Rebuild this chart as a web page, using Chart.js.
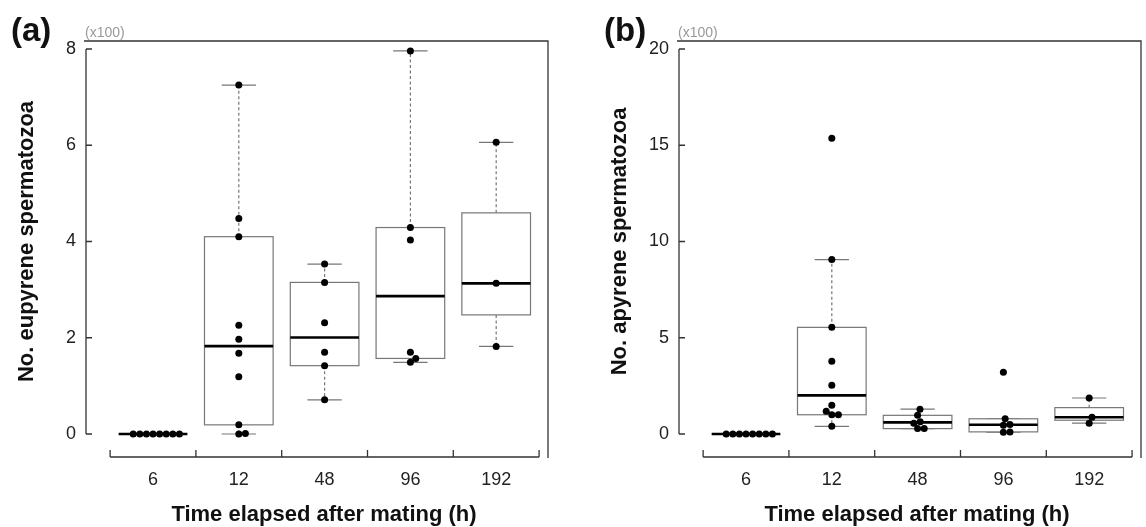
<!DOCTYPE html>
<html>
<head>
<meta charset="utf-8">
<script src="https://cdn.jsdelivr.net/npm/chart.js@4.4.1/dist/chart.umd.min.js"></script>
<style>
  html, body { margin: 0; padding: 0; background: #fff; overflow: hidden; }
  #wrap { position: relative; width: 1146px; height: 527px; }
  #boxA { position: absolute; left: 0; top: 0; width: 573px; height: 527px; }
  #boxB { position: absolute; left: 593px; top: 0; width: 553px; height: 527px; overflow: hidden; }
</style>
</head>
<body>
<div id="wrap">
  <div id="boxA"><canvas id="chartA" width="573" height="527"></canvas></div>
  <div id="boxB"><canvas id="chartB" width="573" height="527"></canvas></div>
</div>
<script>
const hours = ['6', '12', '48', '96', '192'];

// (a) eupyrene spermatozoa, x100
const eupyrene6 = [0, 0, 0, 0, 0, 0, 0, 0];
const eupyrene12 = [7.25, 4.48, 4.10, 2.26, 1.97, 1.68, 1.19, 0.19, 0.01, 0.0];
const eupyrene48 = [3.53, 3.15, 2.31, 1.70, 1.42, 0.71];
const eupyrene96 = [7.96, 4.29, 4.03, 1.70, 1.57, 1.49];
const eupyrene192 = [6.06, 3.13, 1.82];
const ticksA = [0, 2, 4, 6, 8];

// (b) apyrene spermatozoa, x100
const apyrene6 = [0, 0, 0, 0, 0, 0, 0, 0];
const apyrene12 = [15.36, 9.06, 5.54, 3.78, 2.53, 1.49, 1.18, 1.0, 1.0, 0.40];
const apyrene48 = [1.29, 0.97, 0.64, 0.56, 0.28, 0.28];
const apyrene96 = [3.21, 0.79, 0.50, 0.46, 0.11, 0.09];
const apyrene192 = [1.87, 0.87, 0.56];
const ticksB = [0, 5, 10, 15, 20];

const FONT = "'Liberation Sans', Arial, sans-serif";

// R style fivenum (Tukey hinges)
function fivenum(arr) {
  let x = arr.slice().sort((a, b) => a - b);
  let n = x.length;
  let n4 = Math.floor((n + 3) / 2) / 2;
  let d = [1, n4, (n + 1) / 2, n + 1 - n4, n];
  return d.map(p => 0.5 * (x[Math.floor(p) - 1] + x[Math.ceil(p) - 1]));
}

function boxStats(vals) {
  let f = fivenum(vals);
  let iqr = f[3] - f[1];
  let inside = vals.filter(v => v >= f[1] - 1.5 * iqr && v <= f[3] + 1.5 * iqr);
  return { q1: f[1], med: f[2], q3: f[3], lo: Math.min(...inside), hi: Math.max(...inside) };
}

const rBox = {
  id: 'rBox',
  beforeDatasetsDraw(chart, args, opts) {
    const { ctx, chartArea: ca, scales: { x, y } } = chart;
    const axX = ca.left - 14, axY = ca.bottom + 23;
    ctx.save();

    // frame top + right
    ctx.strokeStyle = '#333';
    ctx.lineWidth = 1.3;
    ctx.beginPath();
    ctx.moveTo(axX - 2, ca.top - 8);
    ctx.lineTo(ca.right, ca.top - 8);
    ctx.lineTo(ca.right, axY + 1);
    ctx.stroke();

    // y axis, ticks pointing in
    let yt = opts.ticks;
    ctx.beginPath();
    ctx.moveTo(axX, y.getPixelForValue(yt[0]));
    ctx.lineTo(axX, y.getPixelForValue(yt[yt.length - 1]));
    yt.forEach(v => {
      let py = y.getPixelForValue(v);
      ctx.moveTo(axX, py);
      ctx.lineTo(axX + 6, py);
    });
    ctx.stroke();

    // x axis, ticks between groups
    let n = opts.groups.length;
    ctx.beginPath();
    ctx.moveTo(x.getPixelForValue(-0.5), axY);
    ctx.lineTo(x.getPixelForValue(n - 0.5), axY);
    for (let k = 0; k <= n; k++) {
      let px = x.getPixelForValue(k - 0.5);
      ctx.moveTo(px, axY);
      ctx.lineTo(px, axY - 7);
    }
    ctx.stroke();

    // boxes
    opts.groups.forEach((vals, i) => {
      let s = boxStats(vals);
      let l = x.getPixelForValue(i - 0.4), r = x.getPixelForValue(i + 0.4);
      let cl = x.getPixelForValue(i - 0.2), cr = x.getPixelForValue(i + 0.2);
      let cx = x.getPixelForValue(i);
      ctx.strokeStyle = '#777';
      ctx.lineWidth = 1.2;

      ctx.setLineDash([3, 2.5]);
      ctx.beginPath();
      ctx.moveTo(cx, y.getPixelForValue(s.q3));
      ctx.lineTo(cx, y.getPixelForValue(s.hi));
      ctx.moveTo(cx, y.getPixelForValue(s.q1));
      ctx.lineTo(cx, y.getPixelForValue(s.lo));
      ctx.stroke();
      ctx.setLineDash([]);

      ctx.beginPath();
      ctx.moveTo(cl, y.getPixelForValue(s.hi));
      ctx.lineTo(cr, y.getPixelForValue(s.hi));
      ctx.moveTo(cl, y.getPixelForValue(s.lo));
      ctx.lineTo(cr, y.getPixelForValue(s.lo));
      ctx.stroke();

      let t = y.getPixelForValue(s.q3), b = y.getPixelForValue(s.q1);
      ctx.fillStyle = '#fff';
      ctx.fillRect(l, t, r - l, b - t);
      ctx.strokeRect(l, t, r - l, b - t);

      ctx.strokeStyle = '#000';
      ctx.lineWidth = 2.7;
      ctx.beginPath();
      ctx.moveTo(l, y.getPixelForValue(s.med));
      ctx.lineTo(r, y.getPixelForValue(s.med));
      ctx.stroke();
    });
    ctx.restore();
  },
  afterDraw(chart, args, opts) {
    const { ctx, chartArea: ca } = chart;
    ctx.save();
    ctx.fillStyle = '#111';
    ctx.font = 'bold 33px ' + FONT;
    ctx.textBaseline = 'alphabetic';
    ctx.fillText(opts.panel, 11, 41);
    ctx.fillStyle = '#999';
    ctx.font = '14px ' + FONT;
    ctx.fillText('(x100)', ca.left - 15, 37);
    ctx.restore();
  }
};

// spread points of a group sideways so they do not overlap (swarm)
function swarm(chart, groups) {
  const { x, y } = chart.scales;
  const d = 6.6;
  let data = [];
  groups.forEach((vals, i) => {
    let cx = x.getPixelForValue(i);
    let placed = [];
    vals.slice().sort((a, b) => a - b).forEach(v => {
      let py = y.getPixelForValue(v);
      let cands = [0];
      placed.forEach(p => {
        let dy = Math.abs(p.py - py);
        if (dy < d) {
          let dx = Math.sqrt(d * d - dy * dy);
          cands.push(p.dx + dx, p.dx - dx);
        }
      });
      cands.sort((a, b) => Math.abs(a) - Math.abs(b) || b - a);
      let dx = cands.find(c => placed.every(p => Math.hypot(p.dx - c, p.py - py) >= d - 0.01));
      placed.push({ dx: dx, py: py });
      data.push({ x: x.getValueForPixel(cx + dx), y: v });
    });
  });
  chart.data.datasets[0].data = data;
  chart.update('none');
}

function makeChart(canvas, panel, groups, yTicks, yTitle) {
  let pts = [];
  groups.forEach((vals, i) => vals.forEach(v => pts.push({ x: i, y: v })));

  let chart = new Chart(canvas, {
    type: 'scatter',
    data: {
      datasets: [{
        data: pts,
        pointRadius: 3.5,
        pointBackgroundColor: '#000',
        pointBorderWidth: 0,
        clip: false
      }]
    },
    options: {
      responsive: false,
      animation: false,
      events: [],
      layout: { padding: { top: 49, right: 25, bottom: 0, left: 0 } },
      scales: {
        x: {
          type: 'linear',
          min: -0.618,
          max: 4.604,
          grid: { display: false, drawTicks: false },
          border: { display: false },
          afterBuildTicks: s => { s.ticks = hours.map((h, i) => ({ value: i })); },
          afterFit: s => { s.height = 93; },
          ticks: {
            padding: 35,
            color: '#222',
            font: { family: FONT, size: 18 },
            callback: v => hours[v]
          },
          title: {
            display: true,
            text: 'Time elapsed after mating (h)',
            color: '#111',
            font: { family: FONT, size: 22, weight: 'bold', lineHeight: 1.1 },
            padding: { top: 0, bottom: 0 }
          }
        },
        y: {
          min: yTicks[0],
          max: yTicks[yTicks.length - 1],
          grid: { display: false, drawTicks: false },
          border: { display: false },
          afterBuildTicks: s => { s.ticks = yTicks.map(v => ({ value: v })); },
          afterFit: s => { s.width = 100; },
          ticks: {
            padding: 24,
            color: '#222',
            font: { family: FONT, size: 18 }
          },
          title: {
            display: true,
            text: yTitle,
            color: '#111',
            font: { family: FONT, size: 22, weight: 'bold', lineHeight: 1.1 },
            padding: { top: 15, bottom: 0 }
          }
        }
      },
      plugins: {
        legend: { display: false },
        tooltip: { enabled: false },
        rBox: { panel: panel, groups: groups, ticks: yTicks }
      }
    },
    plugins: [rBox]
  });
  swarm(chart, groups);
  return chart;
}

makeChart(document.getElementById('chartA'), '(a)',
  [eupyrene6, eupyrene12, eupyrene48, eupyrene96, eupyrene192], ticksA, 'No. eupyrene spermatozoa');
makeChart(document.getElementById('chartB'), '(b)',
  [apyrene6, apyrene12, apyrene48, apyrene96, apyrene192], ticksB, 'No. apyrene spermatozoa');
</script>
</body>
</html>
